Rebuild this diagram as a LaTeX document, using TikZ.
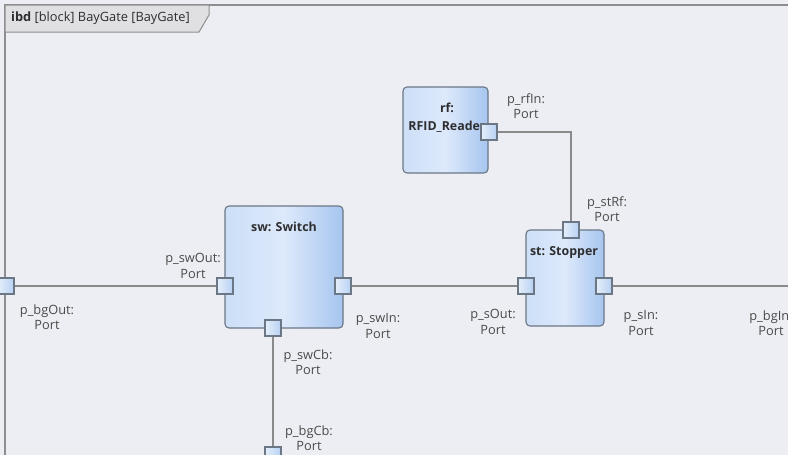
\documentclass[tikz,border=0pt]{standalone}
\usepackage{fontspec}
\setmainfont{Open Sans}
\usetikzlibrary{calc}

\definecolor{canvas}{HTML}{EDEEF3}
\definecolor{framegray}{HTML}{8E8E8E}
\definecolor{tabfill}{HTML}{E0E0E3}
\definecolor{blockedge}{HTML}{6B7785}
\definecolor{blockleft}{HTML}{CCDFF7}
\definecolor{blockmid}{HTML}{DDE9FB}
\definecolor{blockright}{HTML}{A6C5EF}
\definecolor{portleft}{HTML}{E6EFFB}
\definecolor{portright}{HTML}{B6D0F2}
\definecolor{wiregray}{HTML}{8A8A8A}
\definecolor{labelgray}{HTML}{4A4A4A}
\definecolor{titledark}{HTML}{2E2E2E}

\tikzset{
  blockbox/.style={draw=blockedge, line width=1.1pt, rounded corners=4pt,
    left color=blockleft, right color=blockright, middle color=blockmid,
    inner sep=0pt},
  blocktitle/.style={font=\fontsize{12.4}{18}\selectfont\bfseries, text=titledark,
    align=center, inner sep=0pt},
  portbox/.style={draw=blockedge, line width=1.1pt, minimum size=16pt, inner sep=0pt,
    left color=portleft, right color=portright},
  portlabel/.style={font=\fontsize{12.8}{15.5}\selectfont, text=labelgray,
    align=center, inner sep=0pt},
  wire/.style={draw=wiregray, line width=1.1pt},
}

\begin{document}
\begin{tikzpicture}[x=1pt, y=-1pt]
  \useasboundingbox (0,0) rectangle (788,455);
  \clip (0,0) rectangle (788,455);
  \fill[canvas] (0,0) rectangle (788,455);

  % diagram frame and heading tab
  \draw[framegray, line width=1.2pt] (5,470) -- (5,5) -- (800,5);
  \draw[framegray, line width=1pt, fill=tabfill]
    (5,5) -- (209,5) -- (209,15) -- (199,32) -- (5,32) -- cycle;
  \node[anchor=west, inner sep=0pt, font=\fontsize{12.8}{15}\selectfont, text=titledark]
    (heading) at (11,18.5) {\textbf{ibd} [block] BayGate [BayGate]};

  % parts
  \node[blockbox, minimum width=118pt, minimum height=122pt] (sw) at (284,267) {};
  \node[blockbox, minimum width=78pt, minimum height=96pt] (st) at (565,278) {};
  \node[blockbox, minimum width=85pt, minimum height=86pt] (rf) at (445.5,130) {};

  \node[blocktitle] (swTitle) at (284,227) {sw: Switch};
  \node[blocktitle] (stTitle) at (564,252) {st: Stopper};
  \node[blocktitle] (rfTitle) at (447,118) {rf:\\RFID\_Reader};

  % ports
  \node[portbox] (pbgOut) at (6,286) {};
  \node[portbox] (pswOut) at (225,286) {};
  \node[portbox] (pswIn)  at (343,286) {};
  \node[portbox] (pswCb)  at (273,328) {};
  \node[portbox] (psOut)  at (526,286) {};
  \node[portbox] (psIn)   at (604,286) {};
  \node[portbox] (pstRf)  at (571,230) {};
  \node[portbox] (prfIn)  at (489,132) {};
  \node[portbox] (pbgCb)  at (273,455) {};
  \coordinate (pbgIn) at (812,286);

  % connectors
  \draw[wire] (pbgOut.east) -- (pswOut.west);
  \draw[wire] (pswIn.east) -- (psOut.west);
  \draw[wire] (psIn.east) -- (pbgIn);
  \draw[wire] (prfIn.east) -| (pstRf.north);
  \draw[wire] (pswCb.south) -- (pbgCb.north);

  % port names
  \node[portlabel] (lbgOut) at (47,317)  {p\_bgOut:\\Port};
  \node[portlabel] (lswOut) at (193,266) {p\_swOut:\\Port};
  \node[portlabel] (lswIn)  at (378,326) {p\_swIn:\\Port};
  \node[portlabel] (lsOut)  at (493,322) {p\_sOut:\\Port};
  \node[portlabel] (lsIn)   at (641,323) {p\_sIn:\\Port};
  \node[portlabel] (lbgIn)  at (771,323) {p\_bgIn:\\Port};
  \node[portlabel] (lrfIn)  at (526,106) {p\_rfIn:\\Port};
  \node[portlabel] (lstRf)  at (607,209) {p\_stRf:\\Port};
  \node[portlabel] (lswCb)  at (308,362) {p\_swCb:\\Port};
  \node[portlabel] (lbgCb)  at (309,438) {p\_bgCb:\\Port};
\end{tikzpicture}
\end{document}
